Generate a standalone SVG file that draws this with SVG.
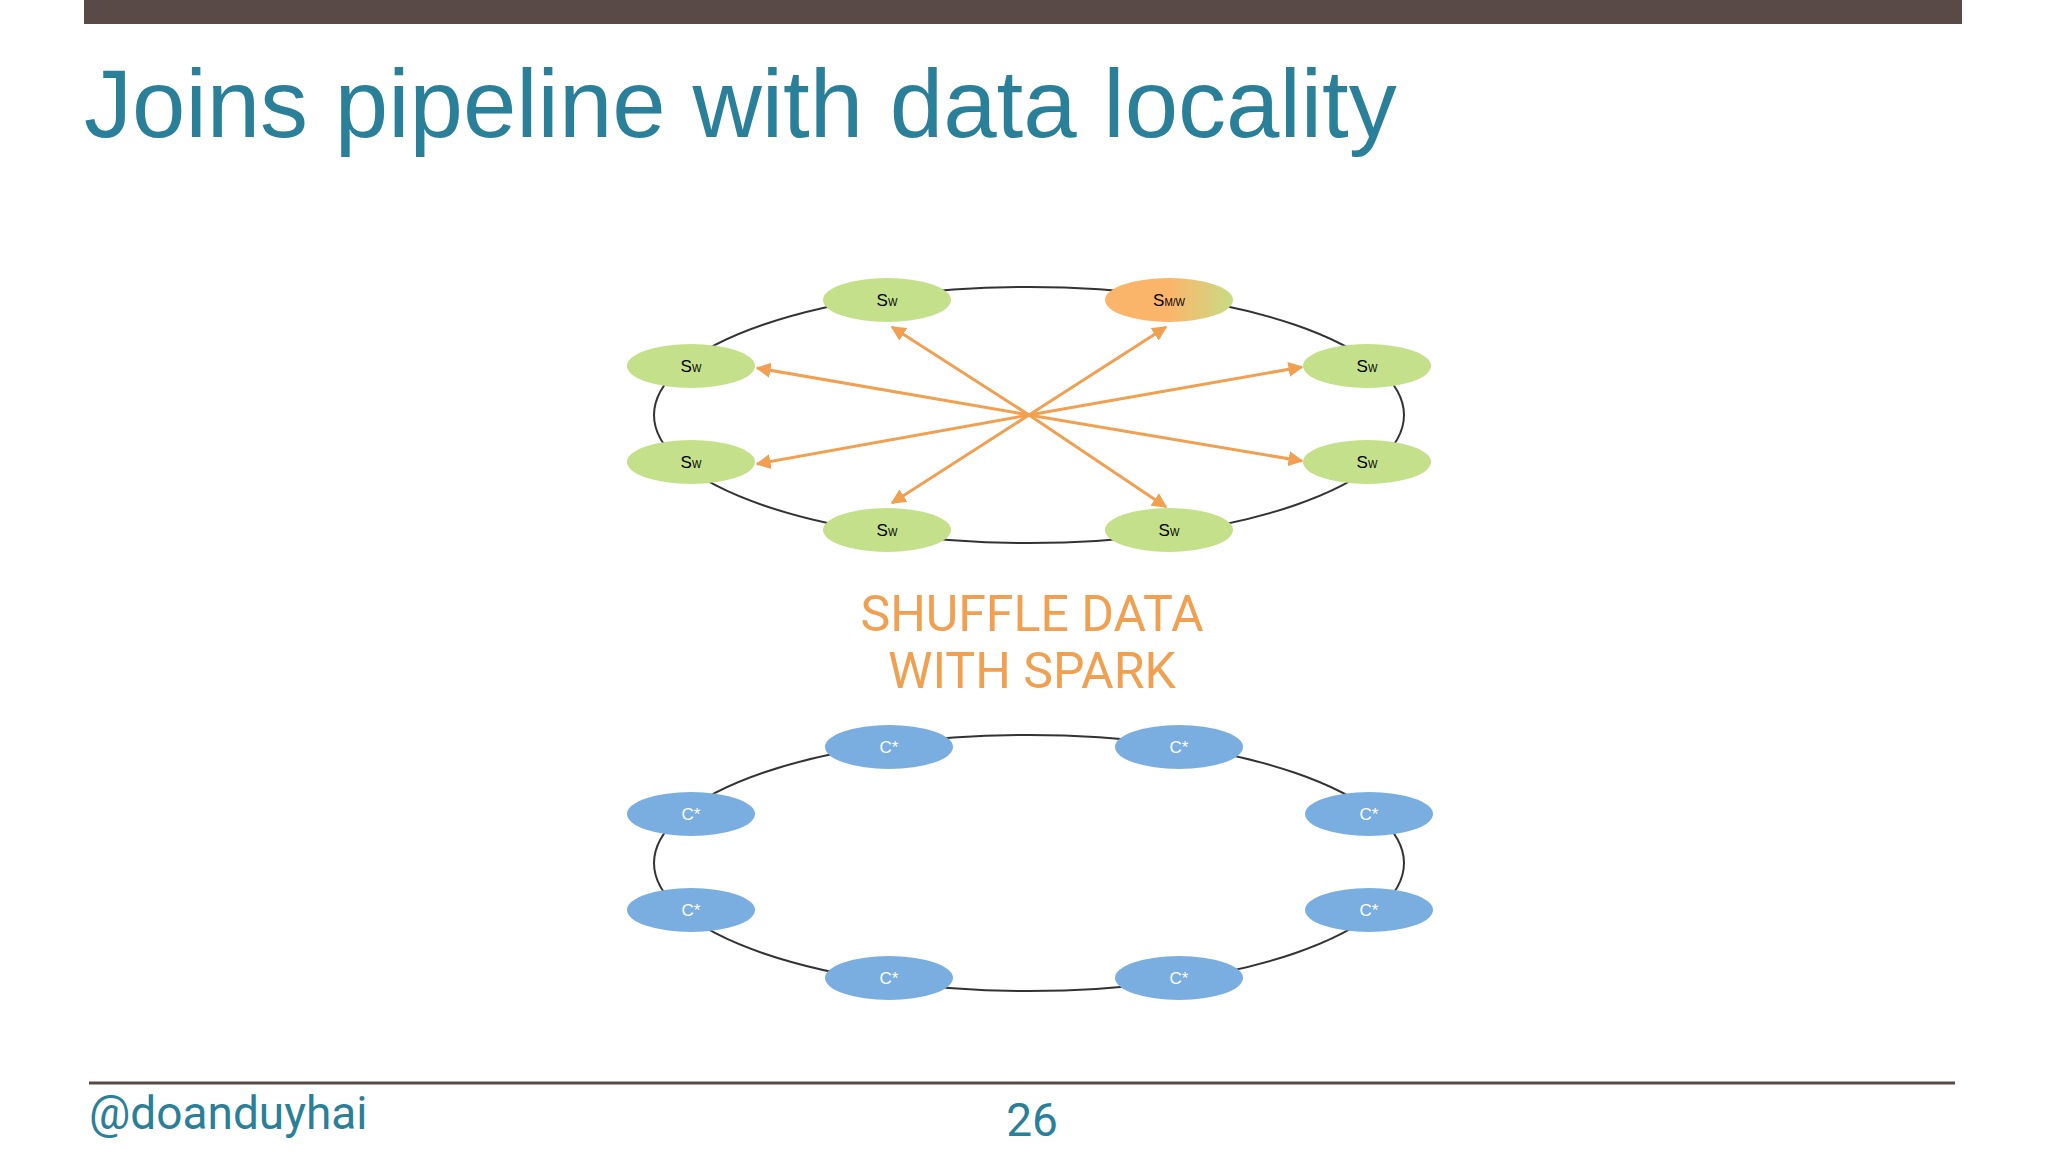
<svg xmlns="http://www.w3.org/2000/svg" width="2048" height="1152" viewBox="0 0 2048 1152">
<defs>
<style>
.ring{fill:none;stroke:#333;stroke-width:2}
.g{fill:#c4e08a}
.b{fill:#7aaee0}
.lab{font-family:"Liberation Sans",Arial,sans-serif;font-size:17px;text-anchor:middle}
.arr{stroke:#f0a050;stroke-width:3;fill:none;marker-end:url(#ah)}
</style>
<marker id="ah" viewBox="0 0 10 10" refX="9" refY="5" markerWidth="5" markerHeight="5" orient="auto"><path d="M0,0L10,5L0,10z" fill="#f0a050"/></marker>
<linearGradient id="og" x1="0" x2="1"><stop offset="0.5" stop-color="#fbb56a"/><stop offset="1" stop-color="#c8dc84"/></linearGradient>
</defs>
<rect width="2048" height="1152" fill="#fff"/>
<rect x="84" y="0" width="1878" height="24" fill="#594a47"/>
<text x="84" y="137" font-family="Liberation Sans,Arial,sans-serif" font-size="96" fill="#2a7f99">Joins pipeline with data locality</text>
<g id="rings"><ellipse class="ring" cx="1029" cy="415" rx="375" ry="128"/><ellipse class="ring" cx="1029" cy="863" rx="375" ry="128"/></g>
<g id="connectors">
<line class="arr" x1="1029" y1="415" x2="892" y2="327"/>
<line class="arr" x1="1029" y1="415" x2="1166" y2="327"/>
<line class="arr" x1="1029" y1="415" x2="757" y2="368"/>
<line class="arr" x1="1029" y1="415" x2="1302" y2="367"/>
<line class="arr" x1="1029" y1="415" x2="757" y2="464"/>
<line class="arr" x1="1029" y1="415" x2="1302" y2="461"/>
<line class="arr" x1="1029" y1="415" x2="892" y2="503"/>
<line class="arr" x1="1029" y1="415" x2="1166" y2="507"/>
</g>
<g id="s1"><ellipse class="g" cx="887" cy="300" rx="64" ry="22"/><text class="lab" x="887" y="306">S<tspan font-size="10">W</tspan></text></g>
<g id="s2"><ellipse fill="url(#og)" cx="1169" cy="300" rx="64" ry="22"/><text class="lab" x="1169" y="306">S<tspan font-size="10">M/W</tspan></text></g>
<g id="s3"><ellipse class="g" cx="691" cy="366" rx="64" ry="22"/><text class="lab" x="691" y="372">S<tspan font-size="10">W</tspan></text></g>
<g id="s4"><ellipse class="g" cx="1367" cy="366" rx="64" ry="22"/><text class="lab" x="1367" y="372">S<tspan font-size="10">W</tspan></text></g>
<g id="s5"><ellipse class="g" cx="691" cy="462" rx="64" ry="22"/><text class="lab" x="691" y="468">S<tspan font-size="10">W</tspan></text></g>
<g id="s6"><ellipse class="g" cx="1367" cy="462" rx="64" ry="22"/><text class="lab" x="1367" y="468">S<tspan font-size="10">W</tspan></text></g>
<g id="s7"><ellipse class="g" cx="887" cy="530" rx="64" ry="22"/><text class="lab" x="887" y="536">S<tspan font-size="10">W</tspan></text></g>
<g id="s8"><ellipse class="g" cx="1169" cy="530" rx="64" ry="22"/><text class="lab" x="1169" y="536">S<tspan font-size="10">W</tspan></text></g>
<text x="1032" y="631" font-family="Roboto,Liberation Sans,sans-serif" font-size="50" fill="#f0a050" text-anchor="middle">SHUFFLE DATA</text>
<text x="1032" y="688" font-family="Roboto,Liberation Sans,sans-serif" font-size="50" fill="#f0a050" text-anchor="middle">WITH SPARK</text>
<g id="c1"><ellipse class="b" cx="889" cy="747" rx="64" ry="22"/><text class="lab" x="889" y="753" fill="#fff">C*</text></g>
<g id="c2"><ellipse class="b" cx="1179" cy="747" rx="64" ry="22"/><text class="lab" x="1179" y="753" fill="#fff">C*</text></g>
<g id="c3"><ellipse class="b" cx="691" cy="814" rx="64" ry="22"/><text class="lab" x="691" y="820" fill="#fff">C*</text></g>
<g id="c4"><ellipse class="b" cx="1369" cy="814" rx="64" ry="22"/><text class="lab" x="1369" y="820" fill="#fff">C*</text></g>
<g id="c5"><ellipse class="b" cx="691" cy="910" rx="64" ry="22"/><text class="lab" x="691" y="916" fill="#fff">C*</text></g>
<g id="c6"><ellipse class="b" cx="1369" cy="910" rx="64" ry="22"/><text class="lab" x="1369" y="916" fill="#fff">C*</text></g>
<g id="c7"><ellipse class="b" cx="889" cy="978" rx="64" ry="22"/><text class="lab" x="889" y="984" fill="#fff">C*</text></g>
<g id="c8"><ellipse class="b" cx="1179" cy="978" rx="64" ry="22"/><text class="lab" x="1179" y="984" fill="#fff">C*</text></g>
<line x1="89" y1="1083" x2="1955" y2="1083" stroke="#594a47" stroke-width="3"/>
<text x="89" y="1129" font-family="Roboto,Liberation Sans,sans-serif" font-size="46" fill="#2a7f99">@doanduyhai</text>
<text x="1032" y="1136" font-family="Roboto,Liberation Sans,sans-serif" font-size="46" fill="#2a7f99" text-anchor="middle">26</text>
</svg>
